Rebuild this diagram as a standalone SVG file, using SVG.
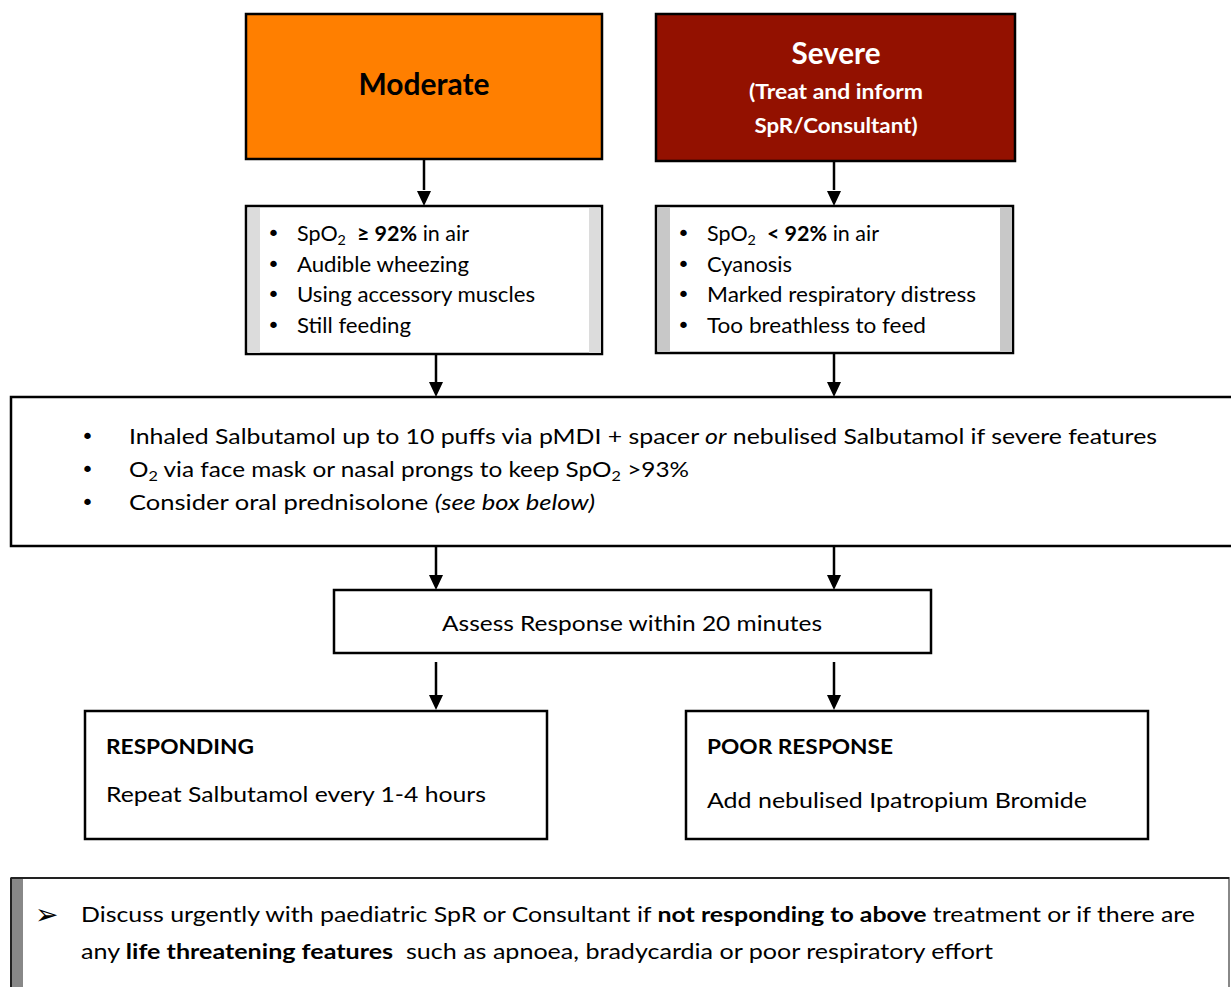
<svg xmlns="http://www.w3.org/2000/svg" width="1231" height="987" viewBox="0 0 1231 987">
<style>
.t{font-family:Lato,"Open Sans","Liberation Sans",sans-serif;font-size:21px;fill:#000}
.b{font-weight:bold}
.w{fill:#fff}
.h{font-size:30px}
.bu{font-family:"DejaVu Sans","Liberation Sans",sans-serif;font-size:22px}
.arr{font-size:28px}
.box{fill:#fff;stroke:#000;stroke-width:2.5}
.ln{stroke:#000;stroke-width:2.5;fill:none}
.sub{font-size:14px}
</style>
<rect width="1231" height="987" fill="#fff"/>

<g id="connectors">
<line class="ln" x1="424" y1="159" x2="424" y2="190"/><path d="M417,191 L431,191 L424,206 Z"/>
<line class="ln" x1="834" y1="161" x2="834" y2="190"/><path d="M827,191 L841,191 L834,206 Z"/>
<line class="ln" x1="436" y1="354" x2="436" y2="382"/><path d="M429,382 L443,382 L436,397 Z"/>
<line class="ln" x1="834" y1="353" x2="834" y2="382"/><path d="M827,382 L841,382 L834,397 Z"/>
<line class="ln" x1="436" y1="546" x2="436" y2="575"/><path d="M429,575 L443,575 L436,590 Z"/>
<line class="ln" x1="834" y1="546" x2="834" y2="575"/><path d="M827,575 L841,575 L834,590 Z"/>
<line class="ln" x1="436" y1="662" x2="436" y2="695"/><path d="M429,695 L443,695 L436,710 Z"/>
<line class="ln" x1="834" y1="662" x2="834" y2="695"/><path d="M827,695 L841,695 L834,710 Z"/>
</g>

<g id="moderate">
<rect x="246" y="14" width="356" height="145" fill="#ff7f00" stroke="#000" stroke-width="2.5"/>
<text class="t b h" x="424" y="95" text-anchor="middle" textLength="131" lengthAdjust="spacingAndGlyphs">Moderate</text>
</g>

<g id="severe">
<rect x="656" y="14" width="359" height="147" fill="#931100" stroke="#000" stroke-width="2.5"/>
<text class="t b w h" x="836" y="64" text-anchor="middle" textLength="89" lengthAdjust="spacingAndGlyphs">Severe</text>
<text class="t b w" x="836" y="99" text-anchor="middle" textLength="174" lengthAdjust="spacingAndGlyphs">(Treat and inform</text>
<text class="t b w" x="836" y="133" text-anchor="middle" textLength="163" lengthAdjust="spacingAndGlyphs">SpR/Consultant)</text>
</g>

<g id="moderate-features">
<rect class="box" x="246" y="206" width="356" height="148"/>
<rect x="248" y="208" width="12" height="145" fill="#dcdcdc"/>
<rect x="589" y="208" width="12" height="145" fill="#dcdcdc"/>
<text class="bu" x="267" y="241">•</text><text class="t" x="297" y="241" xml:space="preserve" textLength="172" lengthAdjust="spacingAndGlyphs">SpO<tspan class="sub" dy="4">2</tspan><tspan dy="-4">  </tspan><tspan class="b">≥ 92%</tspan> in air</text>
<text class="bu" x="267" y="272">•</text><text class="t" x="297" y="272" textLength="172" lengthAdjust="spacingAndGlyphs">Audible wheezing</text>
<text class="bu" x="267" y="302">•</text><text class="t" x="297" y="302" textLength="238" lengthAdjust="spacingAndGlyphs">Using accessory muscles</text>
<text class="bu" x="267" y="333">•</text><text class="t" x="297" y="333" textLength="114" lengthAdjust="spacingAndGlyphs">Still feeding</text>
</g>

<g id="severe-features">
<rect class="box" x="656" y="206" width="357" height="147"/>
<rect x="658" y="208" width="12" height="144" fill="#c8c8c8"/>
<rect x="1000" y="208" width="12" height="144" fill="#c8c8c8"/>
<text class="bu" x="677" y="241">•</text><text class="t" x="707" y="241" xml:space="preserve" textLength="172" lengthAdjust="spacingAndGlyphs">SpO<tspan class="sub" dy="4">2</tspan><tspan dy="-4">  </tspan><tspan class="b">&lt; 92%</tspan> in air</text>
<text class="bu" x="677" y="272">•</text><text class="t" x="707" y="272" textLength="85" lengthAdjust="spacingAndGlyphs">Cyanosis</text>
<text class="bu" x="677" y="302">•</text><text class="t" x="707" y="302" textLength="269" lengthAdjust="spacingAndGlyphs">Marked respiratory distress</text>
<text class="bu" x="677" y="333">•</text><text class="t" x="707" y="333" textLength="219" lengthAdjust="spacingAndGlyphs">Too breathless to feed</text>
</g>

<g id="treatment">
<rect class="box" x="11" y="397" width="1225" height="149"/>
<text class="bu" x="81" y="444">•</text><text class="t" x="129" y="444" textLength="1028" lengthAdjust="spacingAndGlyphs">Inhaled Salbutamol up to 10 puffs via pMDI + spacer <tspan font-style="italic">or</tspan> nebulised Salbutamol if severe features</text>
<text class="bu" x="81" y="477">•</text><text class="t" x="129" y="477" textLength="560" lengthAdjust="spacingAndGlyphs">O<tspan class="sub" dy="4">2</tspan><tspan dy="-4"> via face mask or nasal prongs to keep SpO</tspan><tspan class="sub" dy="4">2</tspan><tspan dy="-4"> &gt;93%</tspan></text>
<text class="bu" x="81" y="510">•</text><text class="t" x="129" y="510" textLength="466" lengthAdjust="spacingAndGlyphs">Consider oral prednisolone <tspan font-style="italic">(see box below)</tspan></text>
</g>

<g id="assess">
<rect class="box" x="334" y="590" width="597" height="63"/>
<text class="t" x="632" y="631" text-anchor="middle" textLength="380" lengthAdjust="spacingAndGlyphs">Assess Response within 20 minutes</text>
</g>

<g id="responding">
<rect class="box" x="85" y="711" width="462" height="128"/>
<text class="t b" x="106" y="754" textLength="148" lengthAdjust="spacingAndGlyphs">RESPONDING</text>
<text class="t" x="106" y="802" textLength="380" lengthAdjust="spacingAndGlyphs">Repeat Salbutamol every 1-4 hours</text>
</g>

<g id="poor-response">
<rect class="box" x="686" y="711" width="462" height="128"/>
<text class="t b" x="707" y="754" textLength="186" lengthAdjust="spacingAndGlyphs">POOR RESPONSE</text>
<text class="t" x="707" y="808" textLength="380" lengthAdjust="spacingAndGlyphs">Add nebulised Ipatropium Bromide</text>
</g>

<g id="discuss">
<rect x="11" y="878" width="1218" height="115" fill="#fff" stroke="#888" stroke-width="2"/>
<line x1="11" y1="878" x2="1229" y2="878" stroke="#222" stroke-width="2"/>
<line x1="11" y1="878" x2="11" y2="987" stroke="#222" stroke-width="2"/>
<rect x="12" y="879" width="11" height="108" fill="#888"/>
<text class="bu arr" x="35" y="924">➢</text>
<text class="t" x="81" y="922" textLength="1114" lengthAdjust="spacingAndGlyphs">Discuss urgently with paediatric SpR or Consultant if <tspan class="b">not responding to above</tspan> treatment or if there are</text>
<text class="t" x="81" y="959" xml:space="preserve" textLength="912" lengthAdjust="spacingAndGlyphs">any <tspan class="b">life threatening features</tspan>  such as apnoea, bradycardia or poor respiratory effort</text>
</g>
</svg>
